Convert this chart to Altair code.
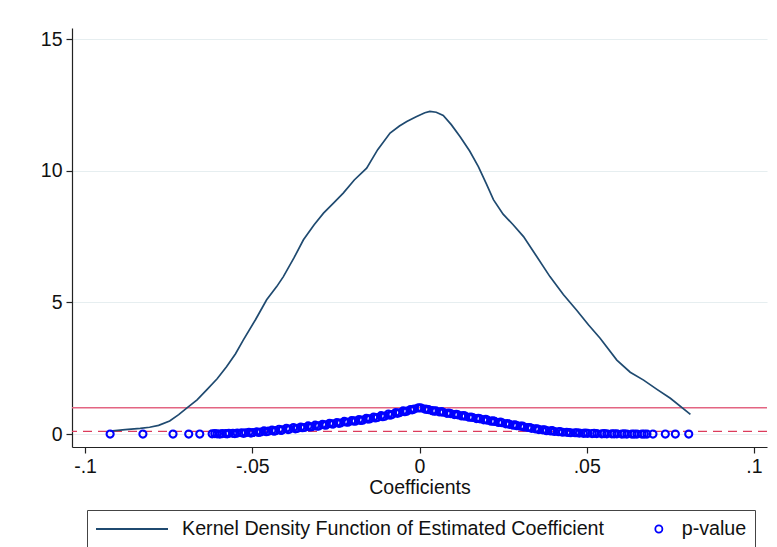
import altair as alt
import pandas as pd

# ---- data ----
dens_x = [-0.0925, -0.088, -0.0835, -0.0807, -0.078, -0.0747, -0.072, -0.0697, -0.0665, -0.0637,
          -0.0605, -0.0577, -0.055, -0.0527, -0.049, -0.0457, -0.0427, -0.0407, -0.0375, -0.0347,
          -0.0315, -0.0287, -0.0255, -0.0228, -0.0195, -0.0158, -0.0125, -0.0088, -0.006, -0.0038,
          -0.001, 0.0016, 0.0031, 0.005, 0.0071, 0.0095, 0.0121, 0.015, 0.0176, 0.020,
          0.0221, 0.025, 0.028, 0.0311, 0.035, 0.039, 0.043, 0.047, 0.0505, 0.054,
          0.059, 0.063, 0.067, 0.071, 0.075, 0.081]
dens_y = [0.11, 0.17, 0.22, 0.26, 0.33, 0.5, 0.74, 0.98, 1.3, 1.67,
          2.1, 2.56, 3.05, 3.57, 4.35, 5.1, 5.6, 5.98, 6.7, 7.38,
          7.95, 8.39, 8.8, 9.15, 9.65, 10.1, 10.8, 11.43, 11.7, 11.87,
          12.05, 12.2, 12.25, 12.22, 12.1, 11.75, 11.3, 10.75, 10.16, 9.5,
          8.9, 8.35, 7.95, 7.5, 6.75, 5.98, 5.3, 4.7, 4.15, 3.64,
          2.81, 2.35, 2.05, 1.7, 1.36, 0.75]

p_x = [-0.0925, -0.0827, -0.0737, -0.069, -0.0657, -0.062, -0.0605, -0.059, -0.058, -0.057,
       -0.0558, -0.0545, -0.0532, -0.052, -0.051, -0.0498, -0.0487, -0.0475, -0.0465, -0.0452,
       -0.0441, -0.043, -0.042, -0.041, -0.0398, -0.0388, -0.0377, -0.0365, -0.0355, -0.0344,
       -0.0333, -0.0322, -0.0312, -0.0301, -0.029, -0.028, -0.0269, -0.0258, -0.0247, -0.0236,
       -0.0225, -0.0214, -0.0203, -0.0192, -0.0181, -0.017, -0.0159, -0.0148, -0.0137, -0.0126,
       -0.0115, -0.0104, -0.0093, -0.0082, -0.0071, -0.006, -0.0049, -0.0038, -0.0027, -0.0016,
       -0.0005,
       0.0005, 0.0016, 0.0027, 0.0038, 0.0049, 0.006, 0.0071, 0.0082, 0.0093, 0.0104,
       0.0115, 0.0126, 0.0137, 0.0148, 0.0159, 0.017, 0.0181, 0.0192, 0.0203, 0.0214,
       0.0225, 0.0236, 0.0247, 0.0258, 0.0269, 0.028, 0.0291, 0.0302, 0.0313, 0.0324,
       0.0335, 0.0346, 0.0357, 0.0368, 0.038, 0.0392, 0.0404, 0.0416, 0.0428, 0.044,
       0.0452, 0.0465, 0.0478, 0.049, 0.0503, 0.0516, 0.053, 0.0545, 0.056, 0.0575,
       0.059, 0.0605, 0.062, 0.0635, 0.065, 0.0665, 0.068, 0.0698, 0.0735, 0.0765,
       0.0805,
       -0.0612, -0.0597, -0.0575, -0.0552, -0.0526, -0.0504, -0.0481, -0.0458, -0.0435, -0.0414,
       -0.0393, -0.0371, -0.035, -0.0328, -0.0306, -0.0285, -0.0263, -0.0241, -0.022, -0.0198,
       -0.0176, -0.0154, -0.0132, -0.011, -0.0088, -0.0066, -0.0044, -0.0022, 0.0,
       0.0022, 0.0044, 0.0066, 0.0088, 0.011, 0.0132, 0.0154, 0.0176, 0.0198, 0.022,
       0.0242, 0.0264, 0.0286, 0.0308, 0.033, 0.0352, 0.0374, 0.0397, 0.042, 0.0446,
       0.0471, 0.0496, 0.0522, 0.0552, 0.0582, 0.0612, 0.0642, 0.0672]
p_y = [0.0, 0.0, 0.0, 0.0, 0.0, 0.01, 0.01, 0.02, 0.02, 0.03,
       0.03, 0.04, 0.05, 0.05, 0.07, 0.06, 0.09, 0.08, 0.12, 0.11,
       0.15, 0.13, 0.18, 0.16, 0.22, 0.19, 0.25, 0.22, 0.27, 0.25,
       0.31, 0.28, 0.34, 0.31, 0.37, 0.34, 0.41, 0.38, 0.44, 0.42,
       0.48, 0.45, 0.51, 0.49, 0.55, 0.53, 0.6, 0.58, 0.65, 0.63,
       0.7, 0.68, 0.76, 0.74, 0.82, 0.81, 0.88, 0.87, 0.93, 0.95,
       0.99,
       0.99, 0.95, 0.93, 0.89, 0.88, 0.84, 0.83, 0.79, 0.78, 0.74,
       0.73, 0.69, 0.68, 0.64, 0.63, 0.59, 0.58, 0.54, 0.53, 0.49,
       0.48, 0.44, 0.43, 0.39, 0.37, 0.34, 0.32, 0.3, 0.27, 0.25,
       0.22, 0.2, 0.17, 0.16, 0.13, 0.12, 0.1, 0.09, 0.07, 0.07,
       0.05, 0.05, 0.04, 0.03, 0.03, 0.02, 0.02, 0.01, 0.01, 0.01,
       0.01, 0.0, 0.0, 0.0, 0.0, 0.0, 0.0, 0.0, 0.0, 0.0,
       0.0,
       0.02, 0.0, 0.01, 0.02, 0.03, 0.04, 0.06, 0.09, 0.11, 0.14,
       0.17, 0.2, 0.24, 0.27, 0.3, 0.35, 0.39, 0.41, 0.46, 0.5,
       0.52, 0.57, 0.61, 0.66, 0.72, 0.79, 0.85, 0.92, 1.0,
       0.94, 0.87, 0.85, 0.8, 0.75, 0.7, 0.65, 0.6, 0.56, 0.5,
       0.46, 0.4, 0.35, 0.3, 0.25, 0.2, 0.16, 0.13, 0.1, 0.06,
       0.05, 0.04, 0.03, 0.02, 0.01, 0.01, 0.0, 0.0]

x_ticks = [-0.1, -0.05, 0, 0.05, 0.1]
y_ticks = [0, 5, 10, 15]
solid_ref = [1]
dashed_ref = [0.1]
series_labels = ["Kernel Density Function of Estimated Coefficient", "p-value"]
x_title = "Coefficients"

FONT = "Liberation Sans"
LINE_COLOR = "#1f4a70"
POINT_COLOR = "#0000ff"

df_d = pd.DataFrame({"x": dens_x, "y": dens_y, "series": series_labels[0]})
df_p = pd.DataFrame({"x": p_x, "y": p_y, "series": series_labels[1]})
df_solid = pd.DataFrame({"y": solid_ref})
df_dash = pd.DataFrame({"y": dashed_ref})

xs = alt.Scale(domain=[-0.1039, 0.1039], nice=False, zero=False)
ys = alt.Scale(domain=[-0.49, 15.42], nice=False, zero=False)

x_axis = alt.Axis(values=x_ticks, title=x_title, grid=False,
                  labelExpr="datum.value == 0 ? '0' : (datum.value < 0 ? '-' : '') + replace(format(abs(datum.value), ''), '0.', '.')",
                  tickSize=6, labelPadding=4, titlePadding=3, titleFontSize=19.5,
                  titleFontWeight="normal", labelFontSize=19.5)
y_axis = alt.Axis(values=y_ticks, title=None, grid=True, gridColor="#e6eef0",
                  gridWidth=1.2, tickSize=6, labelPadding=4, labelFontSize=19.5)

density = alt.Chart(df_d).mark_line(color=LINE_COLOR, strokeWidth=1.7).encode(
    x=alt.X("x:Q", scale=xs, axis=x_axis),
    y=alt.Y("y:Q", scale=ys, axis=y_axis),
)

solid = alt.Chart(df_solid).mark_rule(color="#e36582", strokeWidth=1.3).encode(
    y=alt.Y("y:Q", scale=ys)
)
dashed = alt.Chart(df_dash).mark_rule(color="#dc3c5c", strokeWidth=1.3,
                                      strokeDash=[9, 6]).encode(
    y=alt.Y("y:Q", scale=ys)
)

leg = alt.Legend(title=None, orient="none", legendX=15, legendY=482,
                 direction="horizontal", strokeColor="#444", fillColor="white",
                 padding=8, labelFontSize=19.7, labelFont=FONT, labelColor="#111",
                 labelLimit=800, labelOffset=13, columnPadding=44, symbolStrokeWidth=1.8,
                 clipHeight=22, cornerRadius=0)

points = alt.Chart(df_p).mark_point(filled=False, strokeWidth=2.1, opacity=1).encode(
    x=alt.X("x:Q", scale=xs),
    y=alt.Y("y:Q", scale=ys),
    color=alt.Color("series:N", scale=alt.Scale(domain=series_labels,
                                                range=[LINE_COLOR, POINT_COLOR]), legend=leg),
    shape=alt.Shape("series:N", scale=alt.Scale(domain=series_labels,
                                                range=["stroke", "circle"]), legend=leg),
    size=alt.Size("series:N", scale=alt.Scale(domain=series_labels,
                                              range=[5184, 50]), legend=leg),
)

chart = alt.layer(solid, dashed, density, points).properties(
    width=695, height=419,
    autosize=alt.AutoSizeParams(type="none"),
    padding={"left": 64, "top": 20, "right": 2, "bottom": 100},
).configure(font=FONT).configure_view(stroke=None).configure_axis(
    domainColor="#222", tickColor="#222", labelColor="#111", titleColor="#111",
    domainWidth=1.2, tickWidth=1.2, labelFont=FONT, titleFont=FONT
)

chart.save("out.html", embed_options={"renderer": "svg", "actions": False})
